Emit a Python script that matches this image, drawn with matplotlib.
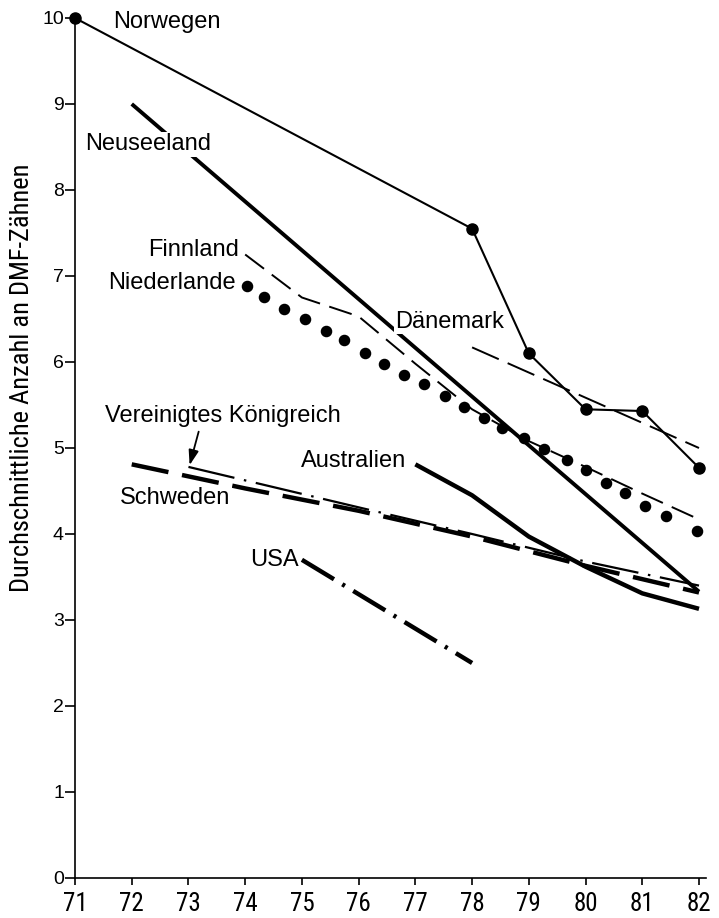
import matplotlib
matplotlib.use("Agg")
import matplotlib.pyplot as plt
from matplotlib import font_manager as fm

# ---------------- data ----------------
years_ticks = [71, 72, 73, 74, 75, 76, 77, 78, 79, 80, 81, 82]
y_ticks = [0, 1, 2, 3, 4, 5, 6, 7, 8, 9, 10]

norwegen_x = [71, 78, 79, 80, 81, 82]
norwegen_y = [10.0, 7.55, 6.10, 5.45, 5.43, 4.77]

neuseeland_x = [72, 82]
neuseeland_y = [9.0, 3.33]

finnland_x = [74, 75, 76, 77, 78, 79, 80, 81, 82]
finnland_y = [7.25, 6.75, 6.53, 5.98, 5.45, 5.08, 4.78, 4.47, 4.17]

niederlande_x = [74.03, 74.34, 74.69, 75.06, 75.42, 75.75, 76.11, 76.44, 76.80,
                 77.15, 77.52, 77.85, 78.21, 78.52, 78.92, 79.27, 79.67, 80.00,
                 80.36, 80.70, 81.05, 81.42, 81.97]
niederlande_y = [6.88, 6.76, 6.62, 6.50, 6.36, 6.25, 6.11, 5.98, 5.85,
                 5.74, 5.60, 5.48, 5.35, 5.23, 5.12, 4.99, 4.86, 4.74,
                 4.59, 4.48, 4.33, 4.21, 4.04]

daenemark_x = [78, 82]
daenemark_y = [6.17, 5.00]

uk_x = [73, 76, 78, 80, 82]
uk_y = [4.78, 4.31, 4.00, 3.68, 3.40]

schweden_x = [72, 74, 76, 78, 80, 82]
schweden_y = [4.81, 4.53, 4.27, 3.97, 3.63, 3.32]

australien_x = [77, 78, 79, 80, 81, 82]
australien_y = [4.81, 4.45, 3.97, 3.62, 3.31, 3.13]

usa_x = [75, 78]
usa_y = [3.70, 2.50]

labels = ["Norwegen", "Neuseeland", "Finnland", "Niederlande", "Dänemark",
          "Vereinigtes Königreich", "Australien", "Schweden", "USA"]
label_x = [71.67, 71.18, 72.29, 71.58, 76.64, 71.53, 74.99, 71.79, 74.09]
label_y = [9.95, 8.53, 7.30, 6.92, 6.47, 5.37, 4.85, 4.42, 3.70]

ylabel_text = "Durchschnittliche Anzahl an DMF-Zähnen"

# ---------------- fonts ----------------
def have(name):
    try:
        fm.findfont(fm.FontProperties(family=name), fallback_to_default=False)
        return True
    except Exception:
        return False

REG = "Liberation Sans" if have("Liberation Sans") else "DejaVu Sans"

# look for any condensed / narrow sans font
narrow_file = None
for f in fm.fontManager.ttflist:
    nm = f.name.lower()
    fn = f.fname.lower()
    if ("narrow" in nm or "condensed" in nm or "narrow" in fn or "condensed" in fn) \
            and f.style == "normal" and f.weight in (400, "normal", "regular") \
            and "mono" not in nm and "serif" not in nm.replace("sans", ""):
        narrow_file = f.fname
        if "liberation" in nm:
            break
if narrow_file:
    NARROW_PROPS = lambda size: fm.FontProperties(fname=narrow_file, size=size)
    XT_SIZE, YL_SIZE = 18, 19
else:
    NARROW_PROPS = lambda size: fm.FontProperties(family=REG, size=size)
    XT_SIZE, YL_SIZE = 15, 17

plt.rcParams["font.family"] = [REG, "DejaVu Sans"]
plt.rcParams["lines.scale_dashes"] = False

fig = plt.figure(figsize=(7.19, 9.18), dpi=100)
ax = fig.add_axes([75 / 719, 40 / 918, (706 - 75) / 719, (878 - 18) / 918])
ax.set_xlim(71, 82 + 7 / 56.7)
ax.set_ylim(0, 10)

K = "black"
common = dict(color=K, clip_on=False, solid_capstyle="butt", dash_capstyle="butt")

ax.plot(norwegen_x, norwegen_y, lw=1.5, marker="o", ms=8, mfc=K, mec=K, zorder=3, **common)
ax.plot(neuseeland_x, neuseeland_y, lw=2.8, zorder=2, **common)
ax.plot(finnland_x, finnland_y, lw=1.4, dashes=(17, 7), zorder=2, **common)
ax.plot(niederlande_x, niederlande_y, ls="none", marker="o", ms=7.3, mfc=K, mec=K,
        zorder=3, clip_on=False)
ax.plot(daenemark_x, daenemark_y, lw=1.4, dashes=(21, 7), zorder=2, **common)
ax.plot(uk_x, uk_y, lw=1.6, dashes=(34, 7, 1.8, 7), zorder=2, **common)
ax.plot(schweden_x, schweden_y, lw=3.2, dashes=(27, 10), zorder=2, **common)
ax.plot(australien_x, australien_y, lw=3.2, zorder=2, **common)
ax.plot(usa_x, usa_y, lw=3.2, dashes=(27, 7, 2.2, 7), zorder=2, **common)

for t, lx, ly in zip(labels, label_x, label_y):
    ax.text(lx, ly, t, fontsize=17, ha="left", va="center", zorder=5,
            bbox=dict(facecolor="white", edgecolor="none", pad=1.0))

ax.annotate("", xy=(73.02, 4.80), xytext=(73.18, 5.19),
            arrowprops=dict(arrowstyle="-|>,head_length=0.9,head_width=0.3",
                            color=K, lw=1.3, shrinkA=0, shrinkB=0), zorder=6)

for s in ["top", "right"]:
    ax.spines[s].set_visible(False)
for s in ["left", "bottom"]:
    ax.spines[s].set_linewidth(1.2)
ax.set_xticks(years_ticks)
ax.set_yticks(y_ticks)
ax.set_xticklabels([str(v) for v in years_ticks])
for lab in ax.get_xticklabels():
    lab.set_fontproperties(NARROW_PROPS(XT_SIZE))
ax.set_yticklabels([str(v) for v in y_ticks], fontsize=14)
ax.tick_params(axis="x", direction="out", length=5, width=1.2, pad=5)
ax.tick_params(axis="y", direction="out", length=7, width=1.2, pad=1)

fig.text(22 / 719, 1 - 378 / 918, ylabel_text, rotation=90, ha="center", va="center",
         fontproperties=NARROW_PROPS(YL_SIZE))

fig.savefig("out.png", dpi=100, facecolor="white")
